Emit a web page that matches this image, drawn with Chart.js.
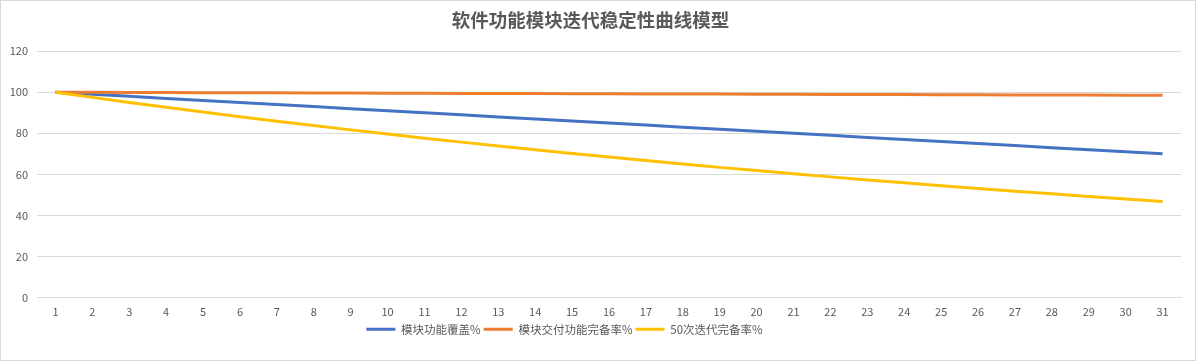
<!DOCTYPE html>
<html>
<head>
<meta charset="utf-8">
<script src="https://cdn.jsdelivr.net/npm/chart.js@4/dist/chart.umd.min.js"></script>
<style>
  html, body { margin: 0; padding: 0; background: #fff; }
  #wrap { width: 1196px; height: 361px; position: relative; }
</style>
</head>
<body>
<div id="wrap"><canvas id="chart" width="1196" height="361"></canvas></div>
<script>
const chartTitle = '软件功能模块迭代稳定性曲线模型'
const iterations = ['1','2','3','4','5','6','7','8','9','10','11','12','13','14','15','16','17','18','19','20','21','22','23','24','25','26','27','28','29','30','31']
const seriesNames = ['模块功能覆盖%', '模块交付功能完备率%', '50次迭代完备率%']
const seriesColors = ['#4472C4', '#ED7D31', '#FFC000']

// values
const coverage = [100, 99, 98, 97, 96, 95, 94, 93, 92, 91, 90, 89, 88, 87, 86, 85, 84, 83, 82, 81, 80, 79, 78, 77, 76, 75, 74, 73, 72, 71, 70]
const delivered = [100, 99.95, 99.9, 99.85, 99.8, 99.75, 99.7, 99.65, 99.6, 99.55, 99.5, 99.45, 99.4, 99.35, 99.3, 99.25, 99.2, 99.15, 99.1, 99.05, 99, 98.95, 98.9, 98.85, 98.8, 98.75, 98.7, 98.65, 98.6, 98.55, 98.5]
const fifty = [100, 97.5, 95.06, 92.69, 90.37, 88.11, 85.91, 83.76, 81.67, 79.63, 77.64, 75.7, 73.81, 71.96, 70.16, 68.41, 66.7, 65.03, 63.4, 61.82, 60.27, 58.77, 57.3, 55.87, 54.47, 53.11, 51.78, 50.49, 49.22, 47.99, 46.79]

const yMin = 0
const yMax = 120
const yStep = 20

const textColor = '#595959'
const gridColor = '#D9D9D9'
const fontFamily = '"Noto Sans CJK SC", "Noto Sans", sans-serif'

// light frame round the whole chart, like the office chart border
const framePlugin = {
  id: 'frame',
  beforeDraw: (chart) => {
    const ctx = chart.ctx
    ctx.save()
    ctx.fillStyle = '#fff'
    ctx.fillRect(0, 0, chart.width, chart.height)
    ctx.strokeStyle = gridColor
    ctx.lineWidth = 1
    ctx.strokeRect(0.5, 0.5, chart.width - 1, chart.height - 1)
    ctx.restore()
  }
}

// the office legend sits a bit left of the canvas centre
const legendShift = {
  id: 'legendShift',
  afterLayout: (chart) => {
    if (chart.legend) {
      chart.legend.left -= 26
      chart.legend.right -= 26
    }
  }
}

const makeDataset = (i, values, order) => ({
  label: seriesNames[i],
  data: values,
  borderColor: seriesColors[i],
  backgroundColor: seriesColors[i],
  borderWidth: 3,
  pointRadius: 0,
  pointHoverRadius: 0,
  tension: 0,
  fill: false,
  order: order
})

const ctx = document.getElementById('chart').getContext('2d')
const chart = new Chart(ctx, {
  type: 'line',
  data: {
    labels: iterations,
    datasets: [
      makeDataset(0, coverage, 3),
      makeDataset(1, delivered, 2),
      makeDataset(2, fifty, 1)
    ]
  },
  plugins: [framePlugin, legendShift],
  options: {
    responsive: false,
    animation: false,
    devicePixelRatio: 1,
    layout: {
      padding: { left: 0, right: 15, top: 0, bottom: 16 }
    },
    plugins: {
      title: {
        display: true,
        text: chartTitle,
        color: textColor,
        font: { family: fontFamily, size: 18.5, weight: 'bold' },
        padding: { top: 9, bottom: 20 }
      },
      legend: {
        position: 'bottom',
        labels: {
          color: textColor,
          font: { family: fontFamily, size: 11.5 },
          usePointStyle: true,
          pointStyle: 'line',
          pointStyleWidth: 29,
          boxHeight: 12,
          padding: 3,
          sort: (a, b) => a.datasetIndex - b.datasetIndex
        }
      },
      tooltip: { enabled: false }
    },
    scales: {
      x: {
        type: 'category',
        offset: true,
        grid: { display: false, drawTicks: false },
        border: { display: true, color: gridColor, width: 1 },
        ticks: {
          color: textColor,
          font: { family: fontFamily, size: 11 },
          padding: 8,
          maxRotation: 0,
          autoSkip: false
        },
        afterFit: (scale) => { scale.height = 23 }
      },
      y: {
        min: yMin,
        max: yMax,
        grid: { color: gridColor, drawTicks: false },
        border: { display: false },
        ticks: {
          stepSize: yStep,
          color: textColor,
          font: { family: fontFamily, size: 11 },
          padding: 9
        },
        afterFit: (scale) => { scale.width = 37 }
      }
    }
  }
})
</script>
</body>
</html>
